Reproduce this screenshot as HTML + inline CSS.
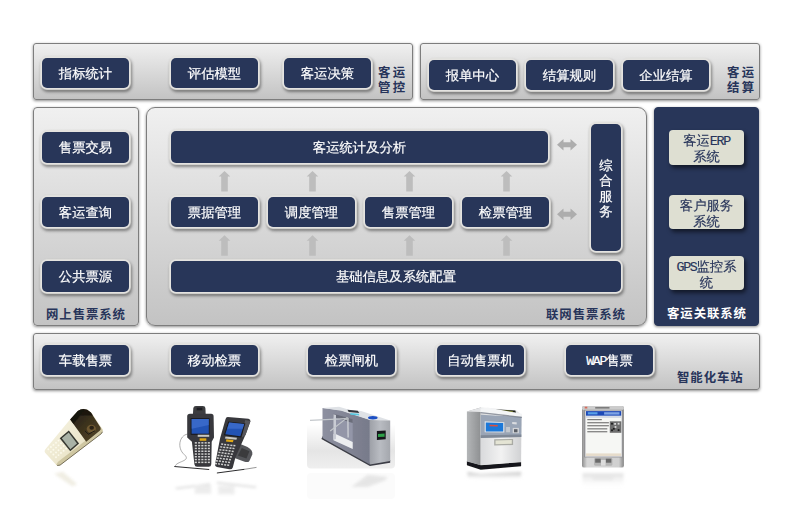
<!DOCTYPE html>
<html lang="zh-CN">
<head>
<meta charset="utf-8">
<title>客运系统架构</title>
<style>
html,body{margin:0;padding:0;background:#fff;}
body{width:795px;height:522px;position:relative;overflow:hidden;
  font-family:"Liberation Sans","WenQuanYi Zen Hei","Noto Sans CJK SC",sans-serif;font-size:13.33px;}
.p{position:absolute;box-sizing:border-box;border:1px solid #7d7d7d;border-radius:4px;
  background:linear-gradient(#f0f0f0,#c3c3c3);
  box-shadow:0 1px 3px rgba(0,0,0,.45);}
.b{position:absolute;box-sizing:border-box;background:#283659;border-radius:5px;color:#fff;
  text-align:center;white-space:nowrap;
  box-shadow:0 0 0 1.5px #e4e3e0,0 0 1px 2px rgba(228,227,224,.7),1px 2px 3px 2px rgba(0,0,0,.42);-webkit-text-stroke:.2px #fff;}
.l{position:absolute;color:#27345a;font-weight:bold;white-space:nowrap;font-size:12.4px;letter-spacing:.93px;
  font-family:"Liberation Sans","Noto Sans CJK SC",sans-serif;}
.g{position:absolute;box-sizing:border-box;background:#dedfd2;border-radius:4px;color:#27345a;
  text-align:center;line-height:16px;box-shadow:2px 3px 4px rgba(0,0,0,.55);white-space:nowrap;-webkit-text-stroke:.15px #27345a;}
.m{font-family:"Liberation Mono",monospace;font-size:13.33px;letter-spacing:-1.33px;line-height:0;}
svg{position:absolute;left:0;top:0;}
</style>
</head>
<body>
<!-- top row -->
<div class="p" style="left:33px;top:43px;width:380px;height:57px;border-radius:3px"></div>
<div class="p" style="left:420px;top:43px;width:340px;height:57px;border-radius:3px"></div>
<!-- middle row -->
<div class="p" style="left:33px;top:107px;width:106px;height:219px"></div>
<div class="p" style="left:146px;top:107px;width:501px;height:219px;border-radius:9px"></div>
<div class="p" style="left:654px;top:107px;width:105px;height:219px;background:#283659;border-color:#283659"></div>
<!-- bottom row -->
<div class="p" style="left:33px;top:333px;width:727px;height:57px;border-radius:3px"></div>
<div class="b" style="left:42px;top:58px;width:87px;height:30px;line-height:31.4px">指标统计</div>
<div class="b" style="left:171px;top:58px;width:87px;height:30px;line-height:31.4px">评估模型</div>
<div class="b" style="left:284px;top:58px;width:87px;height:30px;line-height:31.4px">客运决策</div>
<div class="b" style="left:429px;top:60px;width:87px;height:30px;line-height:31.4px">报单中心</div>
<div class="b" style="left:526px;top:60px;width:87px;height:30px;line-height:31.4px">结算规则</div>
<div class="b" style="left:623px;top:60px;width:86px;height:30px;line-height:31.4px">企业结算</div>
<div class="b" style="left:42px;top:132px;width:87px;height:31px;line-height:32.4px">售票交易</div>
<div class="b" style="left:42px;top:197px;width:87px;height:30px;line-height:31.4px">客运查询</div>
<div class="b" style="left:42px;top:261px;width:87px;height:31px;line-height:32.4px">公共票源</div>
<div class="b" style="left:171px;top:131px;width:377px;height:32px;line-height:33.4px">客运统计及分析</div>
<div class="b" style="left:171px;top:197px;width:87px;height:30px;line-height:31.4px">票据管理</div>
<div class="b" style="left:268px;top:197px;width:87px;height:30px;line-height:31.4px">调度管理</div>
<div class="b" style="left:365px;top:197px;width:87px;height:30px;line-height:31.4px">售票管理</div>
<div class="b" style="left:462px;top:197px;width:87px;height:30px;line-height:31.4px">检票管理</div>
<div class="b" style="left:171px;top:261px;width:450px;height:31px;line-height:32.4px">基础信息及系统配置</div>
<div class="b" style="left:42px;top:345px;width:87px;height:30px;line-height:31.4px">车载售票</div>
<div class="b" style="left:171px;top:345px;width:87px;height:30px;line-height:31.4px">移动检票</div>
<div class="b" style="left:308px;top:345px;width:87px;height:30px;line-height:31.4px">检票闸机</div>
<div class="b" style="left:437px;top:345px;width:87px;height:30px;line-height:31.4px">自动售票机</div>
<div class="b" style="left:566px;top:345px;width:87px;height:30px;line-height:31.4px"><span class="m">WAP</span>售票</div>
<div class="b" style="left:591px;top:124px;width:30px;height:127px;line-height:15.3px;padding-top:34px">综<br>合<br>服<br>务</div>
<div class="l" style="left:378px;top:66px;line-height:15px;letter-spacing:2.4px">客运<br>管控</div>
<div class="l" style="left:727px;top:66px;line-height:15px;letter-spacing:2.4px">客运<br>结算</div>
<div class="l" style="left:46px;top:307px;line-height:17px">网上售票系统</div>
<div class="l" style="left:546px;top:307px;line-height:17px">联网售票系统</div>
<div class="l" style="left:667px;top:306px;line-height:17px;color:#fff">客运关联系统</div>
<div class="l" style="left:677px;top:370px;line-height:17px">智能化车站</div>
<div class="g" style="left:669px;top:130px;width:75px;height:35px;padding-top:3px">客运<span class="m">ERP</span><br>系统</div>
<div class="g" style="left:669px;top:195px;width:75px;height:34px;padding-top:3px">客户服务<br>系统</div>
<div class="g" style="left:669px;top:256px;width:75px;height:34px;padding-top:3px"><span class="m">GPS</span>监控系<br>统</div>
<svg width="795" height="522" viewBox="0 0 795 522">
<path d="M224.5 171l5.8 5.5h-2.5V191.6h-6.6V176.5h-2.5z" fill="#bdbdbd"/>
<path d="M224.5 235.2l5.8 5.5h-2.5V255.8h-6.6V240.7h-2.5z" fill="#bdbdbd"/>
<path d="M312.5 171l5.8 5.5h-2.5V191.6h-6.6V176.5h-2.5z" fill="#bdbdbd"/>
<path d="M312.5 235.2l5.8 5.5h-2.5V255.8h-6.6V240.7h-2.5z" fill="#bdbdbd"/>
<path d="M409.5 171l5.8 5.5h-2.5V191.6h-6.6V176.5h-2.5z" fill="#bdbdbd"/>
<path d="M409.5 235.2l5.8 5.5h-2.5V255.8h-6.6V240.7h-2.5z" fill="#bdbdbd"/>
<path d="M506.5 171l5.8 5.5h-2.5V191.6h-6.6V176.5h-2.5z" fill="#bdbdbd"/>
<path d="M506.5 235.2l5.8 5.5h-2.5V255.8h-6.6V240.7h-2.5z" fill="#bdbdbd"/>
<path d="M557 144.8l6.5-5.8v3.3h7v-3.3l6.5 5.8l-6.5 5.8v-3.3h-7v3.3z" fill="#adadad"/>
<path d="M557 214.3l6.5-5.8v3.3h7v-3.3l6.5 5.8l-6.5 5.8v-3.3h-7v3.3z" fill="#adadad"/>
</svg>
<svg width="795" height="522" viewBox="0 0 795 522">
<defs>
<filter id="bl" x="-10%" y="-10%" width="120%" height="120%"><feGaussianBlur stdDeviation="0.45"/></filter>
<filter id="bl2" x="-20%" y="-20%" width="140%" height="140%"><feGaussianBlur stdDeviation="1.6"/></filter>
<linearGradient id="cream" x1="0" y1="0" x2="1" y2="1"><stop offset="0" stop-color="#faf8ea"/><stop offset=".6" stop-color="#ece6cc"/><stop offset="1" stop-color="#cbc39c"/></linearGradient>
<linearGradient id="head" x1="0" y1="0" x2="1" y2="1"><stop offset="0" stop-color="#1c1a14"/><stop offset=".55" stop-color="#40351f"/><stop offset="1" stop-color="#54452a"/></linearGradient>
<linearGradient id="tsf" x1="0" y1="0" x2="1" y2="0"><stop offset="0" stop-color="#9ea1a8"/><stop offset=".5" stop-color="#b9bcc2"/><stop offset="1" stop-color="#a4a7ad"/></linearGradient>
<linearGradient id="tss" x1="0" y1="0" x2="1" y2="0"><stop offset="0" stop-color="#8d90a0"/><stop offset="1" stop-color="#777a8a"/></linearGradient>
<linearGradient id="flr" x1="0" y1="0" x2="0" y2="1"><stop offset="0" stop-color="#ffffff"/><stop offset=".3" stop-color="#ffffff"/><stop offset=".72" stop-color="#e5e5e5"/><stop offset="1" stop-color="#efefef"/></linearGradient>
<linearGradient id="atmf" x1="0" y1="0" x2="1" y2="0"><stop offset="0" stop-color="#d9dadc"/><stop offset=".5" stop-color="#f2f2f2"/><stop offset="1" stop-color="#d0d1d3"/></linearGradient>
<linearGradient id="atms" x1="0" y1="0" x2="1" y2="0"><stop offset="0" stop-color="#b4b6b8"/><stop offset="1" stop-color="#8e9092"/></linearGradient>
<linearGradient id="pda" x1="0" y1="0" x2="1" y2="0"><stop offset="0" stop-color="#8e8e8e"/><stop offset=".12" stop-color="#d6d6d6"/><stop offset=".88" stop-color="#d0d0d0"/><stop offset="1" stop-color="#858585"/></linearGradient>
<linearGradient id="fade" x1="0" y1="0" x2="0" y2="1"><stop offset="0" stop-color="#b4b4b4" stop-opacity=".85"/><stop offset="1" stop-color="#e8e8e8" stop-opacity="0"/></linearGradient>
</defs>
<g filter="url(#bl)">
<path d="M45.4,449.2 L70.2,419.2 L77.8,410.8 Q84.2,406.0 91.2,412.2 L101.9,428.3 Q103.7,431.8 101.0,433.9 L60.4,465.0 Q58.1,466.3 56.1,464.7 L45.1,452.7 Q43.8,451.1 45.4,449.2z" fill="url(#cream)"/>
<path d="M56.1,464.7 Q58.1,466.3 60.4,465.0 L101.0,433.9 Q103.7,431.8 101.9,428.3 L99.0,430.2 L58.1,461.7z" fill="#cfc7a2"/>
<path d="M57.2,465.5 L60.1,465.1 L101.4,433.6 L102.5,431.8" fill="none" stroke="#4a4432" stroke-width=".7"/>
<path d="M70.2,419.4 L77.8,411.1 Q84.2,406.3 90.9,412.5 L100.6,427.5 Q101.4,429.5 99.7,430.8 L86.2,441.7z" fill="url(#head)"/>
<path d="M70.2,419.4 L77.8,411.1 Q84.2,406.3 90.9,412.5 L92.9,415.4 L80.2,415.4 L73.5,424.1z" fill="#15130e" opacity=".8"/>
<ellipse cx="91.3" cy="428.8" rx="4.6" ry="4.0" fill="#6e5830"/>
<ellipse cx="91.7" cy="427.7" rx="2.3" ry="2.0" fill="#2a2115"/>
<path d="M84.9,430.8 L88.3,434.2 L95.0,430.8" fill="none" stroke="#1c1812" stroke-width="1"/>
<polygon points="59.7,438.2 68.8,430.4 79.1,443.6 70.3,451.3" fill="#34362f"/>
<polygon points="61.8,438.3 68.7,432.6 77.0,443.4 70.4,449.2" fill="#a9b2a6"/>
<circle cx="48.3" cy="449.2" r="0.95" fill="#fcfaec"/>
<circle cx="50.9" cy="447.0" r="0.95" fill="#fcfaec"/>
<circle cx="53.4" cy="444.9" r="0.95" fill="#fcfaec"/>
<circle cx="56.0" cy="442.8" r="0.95" fill="#fcfaec"/>
<circle cx="58.5" cy="440.6" r="0.95" fill="#fcfaec"/>
<circle cx="50.9" cy="451.9" r="0.95" fill="#fcfaec"/>
<circle cx="53.4" cy="449.7" r="0.95" fill="#fcfaec"/>
<circle cx="56.0" cy="447.6" r="0.95" fill="#fcfaec"/>
<circle cx="58.5" cy="445.4" r="0.95" fill="#fcfaec"/>
<circle cx="61.0" cy="443.3" r="0.95" fill="#fcfaec"/>
<circle cx="53.4" cy="454.5" r="0.95" fill="#fcfaec"/>
<circle cx="56.0" cy="452.4" r="0.95" fill="#fcfaec"/>
<circle cx="58.5" cy="450.3" r="0.95" fill="#fcfaec"/>
<circle cx="61.0" cy="448.1" r="0.95" fill="#fcfaec"/>
<circle cx="63.6" cy="446.0" r="0.95" fill="#fcfaec"/>
<circle cx="56.0" cy="457.2" r="0.95" fill="#fcfaec"/>
<circle cx="58.5" cy="455.1" r="0.95" fill="#fcfaec"/>
<circle cx="61.0" cy="452.9" r="0.95" fill="#fcfaec"/>
<circle cx="63.6" cy="450.8" r="0.95" fill="#fcfaec"/>
<circle cx="66.1" cy="448.6" r="0.95" fill="#fcfaec"/>
</g>
<polygon points="54.2,473.8 62.8,471.8 77.2,484.3 72.4,486.2" fill="#ece9dc" opacity=".8" filter="url(#bl2)"/>
<!-- image 2: scanners -->
<g filter="url(#bl)">
<path d="M187.5,434.1 C179.5,435.4 176.6,447.9 184.3,454.6 S175.7,461.3 175.3,466.3" fill="none" stroke="#8a8a8a" stroke-width=".7"/>
<path d="M192.9,414.4 L193.3,408.0 Q193.7,406.1 195.8,406.1 L202.9,406.1 Q205.2,406.1 205.4,408.0 L205.7,414.4z" fill="#3c3d40"/>
<rect x="196.7" y="407.7" width="5.7" height="2.7" fill="#1e1e20"/>
<path d="M187.2,416.3 Q187.2,413.8 190.0,413.8 L211.1,413.8 Q213.6,413.8 213.6,416.3 L214.0,437.4 L211.7,441.8 L211.3,464.2 Q211.1,466.7 208.6,466.7 L197.1,466.7 Q194.8,466.7 194.4,464.2 L191.9,441.8 L187.2,437.4z" fill="#38393c"/>
<polygon points="190.6,418.2 209.6,418.2 209.6,434.9 190.6,434.9" fill="#1a1a1e"/>
<polygon points="191.6,419.0 208.8,419.0 208.8,433.7 191.6,433.7" fill="#2453b4"/>
<polygon points="191.6,419.0 208.8,419.0 208.8,424.9 191.6,428.7" fill="#4a7ad8" opacity=".55"/>
<polygon points="197.7,434.7 209.2,434.7 209.2,436.8 197.7,436.8" fill="#c9c9c4"/>
<polygon points="199.6,438.3 206.3,438.3 206.3,440.8 199.6,440.8" fill="#e0a818"/>
<rect x="194.8" y="442.1" width="2.1" height="1.5" fill="#cfcfcf"/>
<rect x="198.1" y="442.1" width="2.1" height="1.5" fill="#cfcfcf"/>
<rect x="201.3" y="442.1" width="2.1" height="1.5" fill="#cfcfcf"/>
<rect x="204.6" y="442.1" width="2.1" height="1.5" fill="#cfcfcf"/>
<rect x="207.8" y="442.1" width="2.1" height="1.5" fill="#cfcfcf"/>
<rect x="194.8" y="444.9" width="2.1" height="1.5" fill="#cfcfcf"/>
<rect x="198.1" y="444.9" width="2.1" height="1.5" fill="#cfcfcf"/>
<rect x="201.3" y="444.9" width="2.1" height="1.5" fill="#cfcfcf"/>
<rect x="204.6" y="444.9" width="2.1" height="1.5" fill="#cfcfcf"/>
<rect x="207.8" y="444.9" width="2.1" height="1.5" fill="#cfcfcf"/>
<rect x="194.8" y="447.7" width="2.1" height="1.5" fill="#cfcfcf"/>
<rect x="198.1" y="447.7" width="2.1" height="1.5" fill="#cfcfcf"/>
<rect x="201.3" y="447.7" width="2.1" height="1.5" fill="#cfcfcf"/>
<rect x="204.6" y="447.7" width="2.1" height="1.5" fill="#cfcfcf"/>
<rect x="207.8" y="447.7" width="2.1" height="1.5" fill="#cfcfcf"/>
<rect x="194.8" y="450.5" width="2.1" height="1.5" fill="#cfcfcf"/>
<rect x="198.1" y="450.5" width="2.1" height="1.5" fill="#cfcfcf"/>
<rect x="201.3" y="450.5" width="2.1" height="1.5" fill="#cfcfcf"/>
<rect x="204.6" y="450.5" width="2.1" height="1.5" fill="#cfcfcf"/>
<rect x="207.8" y="450.5" width="2.1" height="1.5" fill="#cfcfcf"/>
<rect x="194.8" y="453.3" width="2.1" height="1.5" fill="#cfcfcf"/>
<rect x="198.1" y="453.3" width="2.1" height="1.5" fill="#cfcfcf"/>
<rect x="201.3" y="453.3" width="2.1" height="1.5" fill="#cfcfcf"/>
<rect x="204.6" y="453.3" width="2.1" height="1.5" fill="#cfcfcf"/>
<rect x="207.8" y="453.3" width="2.1" height="1.5" fill="#cfcfcf"/>
<rect x="194.8" y="456.0" width="2.1" height="1.5" fill="#cfcfcf"/>
<rect x="198.1" y="456.0" width="2.1" height="1.5" fill="#cfcfcf"/>
<rect x="201.3" y="456.0" width="2.1" height="1.5" fill="#cfcfcf"/>
<rect x="204.6" y="456.0" width="2.1" height="1.5" fill="#cfcfcf"/>
<rect x="207.8" y="456.0" width="2.1" height="1.5" fill="#cfcfcf"/>
<rect x="194.8" y="458.8" width="2.1" height="1.5" fill="#cfcfcf"/>
<rect x="198.1" y="458.8" width="2.1" height="1.5" fill="#cfcfcf"/>
<rect x="201.3" y="458.8" width="2.1" height="1.5" fill="#cfcfcf"/>
<rect x="204.6" y="458.8" width="2.1" height="1.5" fill="#cfcfcf"/>
<rect x="207.8" y="458.8" width="2.1" height="1.5" fill="#cfcfcf"/>
<rect x="194.8" y="461.6" width="2.1" height="1.5" fill="#cfcfcf"/>
<rect x="198.1" y="461.6" width="2.1" height="1.5" fill="#cfcfcf"/>
<rect x="201.3" y="461.6" width="2.1" height="1.5" fill="#cfcfcf"/>
<rect x="204.6" y="461.6" width="2.1" height="1.5" fill="#cfcfcf"/>
<rect x="207.8" y="461.6" width="2.1" height="1.5" fill="#cfcfcf"/>
<path d="M237.9,443.1 L247.5,446.9 Q253.2,450.2 252.3,454.6 L249.4,460.9 Q248.1,462.8 244.6,461.7 L233.1,457.5z" fill="#55565a"/>
<path d="M241.8,447.9 L249.4,451.3 L246.5,458.4 L237.9,455.6z" fill="#3a3b3e"/>
<path d="M227.8,416.9 L248.5,418.8 Q250.8,419.2 250.4,421.5 L245.6,434.5 L235.4,457.5 L232.8,467.4 Q232.0,469.7 229.3,469.3 L216.9,467.0 Q214.6,466.3 215.1,464.0 L220.1,438.3 L225.5,419.2 Q226.0,416.9 227.8,416.9z" fill="#38393c"/>
<polygon points="245.2,420.1 250.4,421.1 245.6,434.9 241.8,437.4" fill="#56575b"/>
<polygon points="228.2,421.5 245.4,423.4 241.2,437.4 223.9,435.2" fill="#1a1a1e"/>
<polygon points="229.1,422.4 244.2,424.1 240.4,436.2 225.3,434.3" fill="#2453b4"/>
<polygon points="229.1,422.4 244.2,424.1 242.7,428.7 227.2,428.7" fill="#4a7ad8" opacity=".55"/>
<polygon points="225.5,436.4 237.0,437.7 236.4,439.8 224.9,438.5" fill="#c9c9c4"/>
<polygon points="226.4,439.3 233.5,440.0 232.9,442.3 225.9,441.6" fill="#e0a818"/>
<rect x="221.3" y="443.3" width="2.0" height="1.5" fill="#cfcfcf" transform="rotate(8 221.3 443.3)"/>
<rect x="224.3" y="443.7" width="2.0" height="1.5" fill="#cfcfcf" transform="rotate(8 224.3 443.7)"/>
<rect x="227.4" y="444.1" width="2.0" height="1.5" fill="#cfcfcf" transform="rotate(8 227.4 444.1)"/>
<rect x="230.5" y="444.4" width="2.0" height="1.5" fill="#cfcfcf" transform="rotate(8 230.5 444.4)"/>
<rect x="233.5" y="444.8" width="2.0" height="1.5" fill="#cfcfcf" transform="rotate(8 233.5 444.8)"/>
<rect x="220.4" y="446.1" width="2.0" height="1.5" fill="#cfcfcf" transform="rotate(8 220.4 446.1)"/>
<rect x="223.4" y="446.5" width="2.0" height="1.5" fill="#cfcfcf" transform="rotate(8 223.4 446.5)"/>
<rect x="226.5" y="446.8" width="2.0" height="1.5" fill="#cfcfcf" transform="rotate(8 226.5 446.8)"/>
<rect x="229.6" y="447.2" width="2.0" height="1.5" fill="#cfcfcf" transform="rotate(8 229.6 447.2)"/>
<rect x="232.6" y="447.6" width="2.0" height="1.5" fill="#cfcfcf" transform="rotate(8 232.6 447.6)"/>
<rect x="219.5" y="448.9" width="2.0" height="1.5" fill="#cfcfcf" transform="rotate(8 219.5 448.9)"/>
<rect x="222.6" y="449.2" width="2.0" height="1.5" fill="#cfcfcf" transform="rotate(8 222.6 449.2)"/>
<rect x="225.6" y="449.6" width="2.0" height="1.5" fill="#cfcfcf" transform="rotate(8 225.6 449.6)"/>
<rect x="228.7" y="450.0" width="2.0" height="1.5" fill="#cfcfcf" transform="rotate(8 228.7 450.0)"/>
<rect x="231.8" y="450.4" width="2.0" height="1.5" fill="#cfcfcf" transform="rotate(8 231.8 450.4)"/>
<rect x="218.6" y="451.6" width="2.0" height="1.5" fill="#cfcfcf" transform="rotate(8 218.6 451.6)"/>
<rect x="221.7" y="452.0" width="2.0" height="1.5" fill="#cfcfcf" transform="rotate(8 221.7 452.0)"/>
<rect x="224.7" y="452.4" width="2.0" height="1.5" fill="#cfcfcf" transform="rotate(8 224.7 452.4)"/>
<rect x="227.8" y="452.8" width="2.0" height="1.5" fill="#cfcfcf" transform="rotate(8 227.8 452.8)"/>
<rect x="230.9" y="453.2" width="2.0" height="1.5" fill="#cfcfcf" transform="rotate(8 230.9 453.2)"/>
<rect x="217.7" y="454.4" width="2.0" height="1.5" fill="#cfcfcf" transform="rotate(8 217.7 454.4)"/>
<rect x="220.8" y="454.8" width="2.0" height="1.5" fill="#cfcfcf" transform="rotate(8 220.8 454.8)"/>
<rect x="223.9" y="455.2" width="2.0" height="1.5" fill="#cfcfcf" transform="rotate(8 223.9 455.2)"/>
<rect x="226.9" y="455.6" width="2.0" height="1.5" fill="#cfcfcf" transform="rotate(8 226.9 455.6)"/>
<rect x="230.0" y="455.9" width="2.0" height="1.5" fill="#cfcfcf" transform="rotate(8 230.0 455.9)"/>
<rect x="216.9" y="457.2" width="2.0" height="1.5" fill="#cfcfcf" transform="rotate(8 216.9 457.2)"/>
<rect x="219.9" y="457.6" width="2.0" height="1.5" fill="#cfcfcf" transform="rotate(8 219.9 457.6)"/>
<rect x="223.0" y="458.0" width="2.0" height="1.5" fill="#cfcfcf" transform="rotate(8 223.0 458.0)"/>
<rect x="226.0" y="458.3" width="2.0" height="1.5" fill="#cfcfcf" transform="rotate(8 226.0 458.3)"/>
<rect x="229.1" y="458.7" width="2.0" height="1.5" fill="#cfcfcf" transform="rotate(8 229.1 458.7)"/>
<rect x="216.0" y="460.0" width="2.0" height="1.5" fill="#cfcfcf" transform="rotate(8 216.0 460.0)"/>
<rect x="219.0" y="460.3" width="2.0" height="1.5" fill="#cfcfcf" transform="rotate(8 219.0 460.3)"/>
<rect x="222.1" y="460.7" width="2.0" height="1.5" fill="#cfcfcf" transform="rotate(8 222.1 460.7)"/>
<rect x="225.2" y="461.1" width="2.0" height="1.5" fill="#cfcfcf" transform="rotate(8 225.2 461.1)"/>
<rect x="228.2" y="461.5" width="2.0" height="1.5" fill="#cfcfcf" transform="rotate(8 228.2 461.5)"/>
<rect x="215.1" y="462.7" width="2.0" height="1.5" fill="#cfcfcf" transform="rotate(8 215.1 462.7)"/>
<rect x="218.2" y="463.1" width="2.0" height="1.5" fill="#cfcfcf" transform="rotate(8 218.2 463.1)"/>
<rect x="221.2" y="463.5" width="2.0" height="1.5" fill="#cfcfcf" transform="rotate(8 221.2 463.5)"/>
<rect x="224.3" y="463.9" width="2.0" height="1.5" fill="#cfcfcf" transform="rotate(8 224.3 463.9)"/>
<rect x="227.3" y="464.3" width="2.0" height="1.5" fill="#cfcfcf" transform="rotate(8 227.3 464.3)"/>
<path d="M174.3,466.5 L209.2,469.5" stroke="#2c2c2e" stroke-width="1"/>
<path d="M216.9,473.0 L244.6,469.3" stroke="#2c2c2e" stroke-width="1"/>
<path d="M244.6,469.3 L256.5,467.4" stroke="#8a8a8a" stroke-width=".9"/>
</g>
<g filter="url(#bl2)" opacity=".4"><path d="M175.7,488.5 L210.1,484.3" stroke="#9a9a9a" stroke-width="1.6"/><path d="M216.9,482.8 L256.1,487.2" stroke="#9a9a9a" stroke-width="1.6"/><rect x="194.8" y="485.2" width="16.3" height="8.6" fill="#d2d2d2"/><rect x="218.2" y="485.8" width="16.3" height="8.6" fill="#d2d2d2"/></g>
<!-- image 3: turnstile -->
<rect x="307" y="405.5" width="88" height="63" rx="4" fill="url(#flr)"/>
<g filter="url(#bl)">
<polygon points="321.4,438.9 369.9,466.0 390.2,462.7 390.2,460.0 369.9,462.7 322.5,436.3" fill="#3c3e46"/>
<polygon points="322.5,408.1 341.3,410.3 369.9,419.7 369.9,464.4 322.5,438.0" fill="url(#tss)"/>
<polygon points="333.5,413.8 352.7,419.1 352.7,449.0 333.5,440.2" fill="#9396a8"/>
<polygon points="333.5,413.8 352.7,419.1 352.7,423.0 333.5,417.3" fill="#6a6d7a"/>
<polygon points="335.7,434.1 352.7,442.0 352.7,449.0 333.5,440.2 333.5,434.1" fill="#eceef0"/><polygon points="333.5,414.2 336.0,414.9 336.0,438.9 333.5,439.8" fill="#c9ccd4"/>
<polygon points="322.5,408.1 339.1,406.7 349.0,409.8 361.1,411.1 390.2,420.4 369.9,420.0 341.3,410.7" fill="#dfe2e6"/>
<polygon points="347.4,409.8 357.8,410.7 359.3,412.9 348.7,412.0" fill="#30343a"/>
<polygon points="350.1,412.9 358.9,413.8 359.3,415.6 350.5,414.7" fill="#58c8e0"/>
<polygon points="369.9,420.0 390.2,420.4 390.2,460.9 369.9,464.4" fill="url(#tsf)"/>
<ellipse cx="372.8" cy="417.8" rx="4.8" ry="1.7" fill="#1c4fc4"/>
<polygon points="376.9,431.0 385.7,430.5 385.7,439.3 376.9,440.0" fill="#15181a"/>
<polygon points="378.0,434.1 384.6,433.6 384.6,436.7 378.0,437.1" fill="#2fa04a"/>
<path d="M310.0,420.4 L346.1,418.6" stroke="#c4c8cc" stroke-width="1.1"/>
<path d="M330.2,431.0 L346.1,418.6" stroke="#c4c8cc" stroke-width="1.1"/>
<path d="M347.9,418.2 L348.1,437.6" stroke="#d4d8dc" stroke-width="1.2"/>
<circle cx="347.0" cy="418.6" r="1.6" fill="#b4b8bc"/>
</g>
<rect x="307" y="473" width="88" height="26" rx="4" fill="#fbfbfb"/>
<polygon points="351.2,486.9 367.7,474.8 387.5,477.0 385.3,480.3 367.7,486.9" fill="#d8d8d8" opacity=".6" filter="url(#bl2)"/>

<!-- image 4: ticket machine -->
<g filter="url(#bl)">
<polygon points="466.9,460.9 480.7,464.9 521.1,461.8 521.1,466.2 480.7,469.7 466.9,465.3" fill="#17181a"/>
<polygon points="466.9,411.4 480.7,407.6 480.7,465.3 466.9,461.4" fill="url(#atms)"/>
<polygon points="480.7,412.0 521.5,414.7 521.1,462.2 480.7,465.3" fill="url(#atmf)"/>
<polygon points="466.9,411.4 480.7,407.6 516.0,410.3 521.5,414.7 480.7,412.0" fill="#e4e5e7"/>
<polygon points="488.0,408.9 515.3,410.5 516.0,412.7 488.5,411.1" fill="#1a1c14"/>
<polygon points="491.8,409.8 512.7,410.9 512.9,412.0 492.0,410.9" fill="#7a8030"/>
<polygon points="480.7,414.7 521.5,416.9 521.3,436.7 480.7,437.6" fill="#9aa5b6"/><polygon points="480.5,408.5 487.6,407.6 521.9,413.8 521.9,416.7 480.5,412.0" fill="#f4f5f6"/><polygon points="480.5,412.0 521.9,416.7 521.9,418.0 480.5,413.3" fill="#6f7684" opacity=".7"/>
<polygon points="480.7,435.2 521.3,434.5 521.3,437.1 480.7,438.0" fill="#7f8896"/>
<polygon points="484.7,421.3 504.3,422.2 504.3,432.5 484.7,432.3" fill="#dfe3e8"/>
<polygon points="485.8,422.4 503.2,423.0 503.2,431.6 485.8,431.4" fill="#1f78d8"/>
<polygon points="489.6,424.8 497.7,425.0 497.7,426.6 489.6,426.3" fill="#e0503a"/>
<polygon points="506.1,427.0 510.0,427.0 510.0,432.3 506.1,432.3" fill="#c4c8ce"/>
<polygon points="512.7,427.9 518.9,427.9 518.9,433.2 512.7,433.2" fill="#d2d4d8"/>
<polygon points="514.0,429.2 517.5,429.2 517.5,432.3 514.0,432.3" fill="#5a5e66"/>
<polygon points="512.2,421.9 516.7,422.2 516.7,424.4 512.2,424.1" fill="#dadce0"/>
<polygon points="494.2,439.3 513.1,438.9 513.1,445.1 494.2,445.5" fill="#a9aaa4"/>
<polygon points="495.5,440.4 511.8,440.0 511.8,443.7 495.5,444.2" fill="#e4e4d4"/>
</g>
<polygon points="467.5,471.9 480.7,473.7 521.1,471.9 521.1,478.1 480.7,479.9 467.5,477.7" fill="url(#fade)" filter="url(#bl2)"/>
<!-- image 5: PDA -->
<g filter="url(#bl)">
<rect x="582.0" y="405.9" width="41.9" height="61.7" fill="url(#pda)" rx="2.2"/>
<rect x="582.0" y="405.9" width="41.9" height="4.4" fill="#cccccc" rx="2"/><rect x="595.2" y="407.2" width="14.3" height="1.3" fill="#6a6a6a" /><rect x="584.7" y="406.7" width="2.6" height="1.8" fill="#d86a5a" />
<rect x="584.2" y="409.8" width="38.8" height="47.6" fill="#8c8c8e" /><rect x="585.1" y="410.5" width="37.0" height="46.3" fill="#d8d8da" />
<rect x="586.0" y="411.1" width="35.2" height="44.9" fill="#f6f7f4" />
<rect x="586.0" y="411.1" width="35.2" height="4.6" fill="#1c48b6" />
<rect x="587.8" y="412.2" width="9.7" height="2.2" fill="#58a0e8" />
<rect x="604.1" y="412.2" width="15.4" height="2.4" fill="#7fa4e4" />
<rect x="586.0" y="416.0" width="35.2" height="2.0" fill="#d6dce6" />
<rect x="609.8" y="421.3" width="11.5" height="11.5" fill="#6e6e6e" />
<rect x="611.1" y="422.8" width="1.8" height="1.8" fill="#1c1c1c" />
<rect x="617.7" y="422.8" width="1.8" height="1.8" fill="#d8d8d8" />
<rect x="611.1" y="429.4" width="1.8" height="1.8" fill="#1c1c1c" />
<rect x="614.6" y="426.1" width="1.8" height="1.8" fill="#d8d8d8" />
<rect x="617.7" y="429.2" width="1.8" height="1.8" fill="#1c1c1c" />
<rect x="614.2" y="423.0" width="1.8" height="1.8" fill="#d8d8d8" />
<rect x="612.9" y="427.9" width="1.8" height="1.8" fill="#1c1c1c" />
<rect x="587.3" y="419.1" width="14.5" height="1.1" fill="#6e6e6e" />
<rect x="587.3" y="422.2" width="21.6" height="1.1" fill="#6e6e6e" />
<rect x="587.3" y="425.2" width="21.6" height="1.1" fill="#6e6e6e" />
<rect x="587.3" y="428.3" width="20.0" height="1.1" fill="#6e6e6e" />
<rect x="587.3" y="431.2" width="20.0" height="1.1" fill="#6e6e6e" />
<rect x="586.0" y="453.4" width="35.2" height="2.6" fill="#e6dccb" />
<rect x="594.1" y="457.8" width="18.3" height="7.9" fill="#b4b4b4" rx="1.5"/>
<rect x="595.2" y="458.7" width="5.5" height="4.0" fill="#6a6a6a" />
<rect x="605.8" y="458.7" width="5.5" height="4.0" fill="#6a6a6a" />
<rect x="601.0" y="460.0" width="4.6" height="5.7" fill="#dcdcdc" />
</g>
<g opacity=".5" filter="url(#bl2)"><rect x="582.5" y="473.3" width="41.0" height="13.7" fill="url(#fade)" /><rect x="593.0" y="474.8" width="19.8" height="5.5" fill="#d0d0d0" /></g>
</svg>
</body>
</html>
